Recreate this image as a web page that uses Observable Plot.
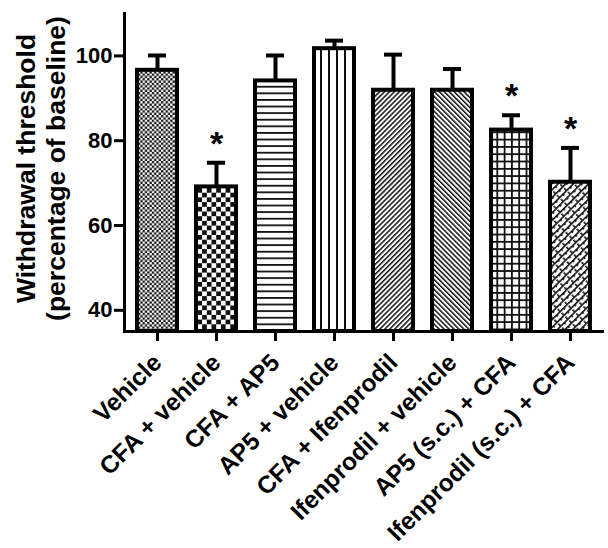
<!DOCTYPE html>
<html><head><meta charset="utf-8">
<script src="https://cdn.jsdelivr.net/npm/d3@7"></script>
<script src="https://cdn.jsdelivr.net/npm/@observablehq/plot@0.6"></script>
<style>
body{margin:0;background:#fff}
#chart svg{font-family:"Liberation Sans",Arial,sans-serif;font-weight:bold}
</style>
</head><body><div id="chart"></div>
<script>
const categories = ["Vehicle","CFA + vehicle","CFA + AP5","AP5 + vehicle","CFA + Ifenprodil","Ifenprodil + vehicle","AP5 (s.c.) + CFA","Ifenprodil (s.c.) + CFA"];
const means = [96.6, 69.1, 94.1, 101.7, 91.9, 91.9, 82.5, 70.2];
const errors = [3.5, 5.7, 6.0, 1.9, 8.4, 5.0, 3.5, 8.1];
const significant = [false, true, false, false, false, false, true, true];
const yTicks = [40, 60, 80, 100];
const yDomain = [35, 110];
const yTitle = "Withdrawal threshold\n(percentage of baseline)";

const data = categories.map((c, i) => ({group: c, mean: means[i], err: errors[i], sig: significant[i], idx: i}));

const plot = Plot.plot({
  width: 608, height: 548,
  marginLeft: 124, marginRight: 6, marginTop: 13, marginBottom: 217,
  style: {fontFamily: '"Liberation Sans", Arial, sans-serif', fontWeight: "bold", background: "white", color: "black", overflow: "visible"},
  x: {domain: categories, paddingInner: 0.33, paddingOuter: 0.165, label: null},
  y: {domain: yDomain, label: null},
  color: {type: "identity"},
  marks: [
    Plot.ruleX(data, {x: "group", y1: "mean", y2: d => d.mean + d.err, strokeWidth: 4, stroke: "black"}),
    Plot.tickY(data, {x: "group", y: d => d.mean + d.err, strokeWidth: 4, stroke: "black", insetLeft: 11, insetRight: 11}),
    Plot.barY(data, {x: "group", y1: yDomain[0], y2: "mean", fill: d => `url(#pat${d.idx})`, stroke: "black", strokeWidth: 4}),
    Plot.text(data.filter(d => d.sig), {x: "group", y: d => d.mean + d.err, text: () => "*", fontSize: 34, lineAnchor: "bottom", dy: -8}),
    Plot.axisY({ticks: yTicks, tickSize: 10, tickPadding: 2, fontSize: 22, strokeWidth: 3, label: null}),
    Plot.axisX({tickSize: 10, tickRotate: -45, fontSize: 24.5, strokeWidth: 3, tickPadding: 17, label: null}),
    Plot.frame({anchor: "left", strokeWidth: 3}),
    Plot.frame({anchor: "bottom", strokeWidth: 3}),
    Plot.text([yTitle], {frameAnchor: "left", textAnchor: "middle", lineAnchor: "middle", rotate: -90, dx: -84, dy: -4, fontSize: 26.5, lineHeight: 1.15})
  ]
});

const defs = `<defs>
<pattern id="pat0" patternUnits="userSpaceOnUse" width="4.6" height="4.6"><rect width="4.6" height="4.6" fill="#fff"/><rect width="2.3" height="2.3" fill="#111"/><rect x="2.3" y="2.3" width="2.3" height="2.3" fill="#111"/></pattern>
<pattern id="pat1" patternUnits="userSpaceOnUse" width="9.4" height="9.4"><rect width="9.4" height="9.4" fill="#fff"/><rect width="4.7" height="4.7" fill="#111"/><rect x="4.7" y="4.7" width="4.7" height="4.7" fill="#111"/></pattern>
<pattern id="pat2" patternUnits="userSpaceOnUse" width="10" height="6.6"><rect width="10" height="6.6" fill="#fff"/><rect width="10" height="1.8" fill="#111"/></pattern>
<pattern id="pat3" patternUnits="userSpaceOnUse" width="8" height="10"><rect width="8" height="10" fill="#fff"/><rect width="2" height="10" fill="#111"/></pattern>
<pattern id="pat4" patternUnits="userSpaceOnUse" width="3.5" height="10" patternTransform="rotate(45)"><rect width="3.5" height="10" fill="#fff"/><rect width="1.5" height="10" fill="#111"/></pattern>
<pattern id="pat5" patternUnits="userSpaceOnUse" width="3.5" height="10" patternTransform="rotate(-45)"><rect width="3.5" height="10" fill="#fff"/><rect width="1.5" height="10" fill="#111"/></pattern>
<pattern id="pat6" patternUnits="userSpaceOnUse" width="7.3" height="7.3"><rect width="7.3" height="7.3" fill="#fff"/><rect width="7.3" height="1.8" fill="#111"/><rect width="1.8" height="7.3" fill="#111"/></pattern>
<pattern id="pat7" patternUnits="userSpaceOnUse" width="10" height="5.4" patternTransform="rotate(-45)"><rect width="10" height="5.4" fill="#fff"/><rect width="10" height="1.6" fill="#111"/><rect x="0" y="0" width="1.6" height="2.7" fill="#111"/><rect x="5" y="2.7" width="1.6" height="2.7" fill="#111"/></pattern>
</defs>`;
plot.insertAdjacentHTML("afterbegin", defs);
document.getElementById("chart").appendChild(plot);
</script>
</body></html>
